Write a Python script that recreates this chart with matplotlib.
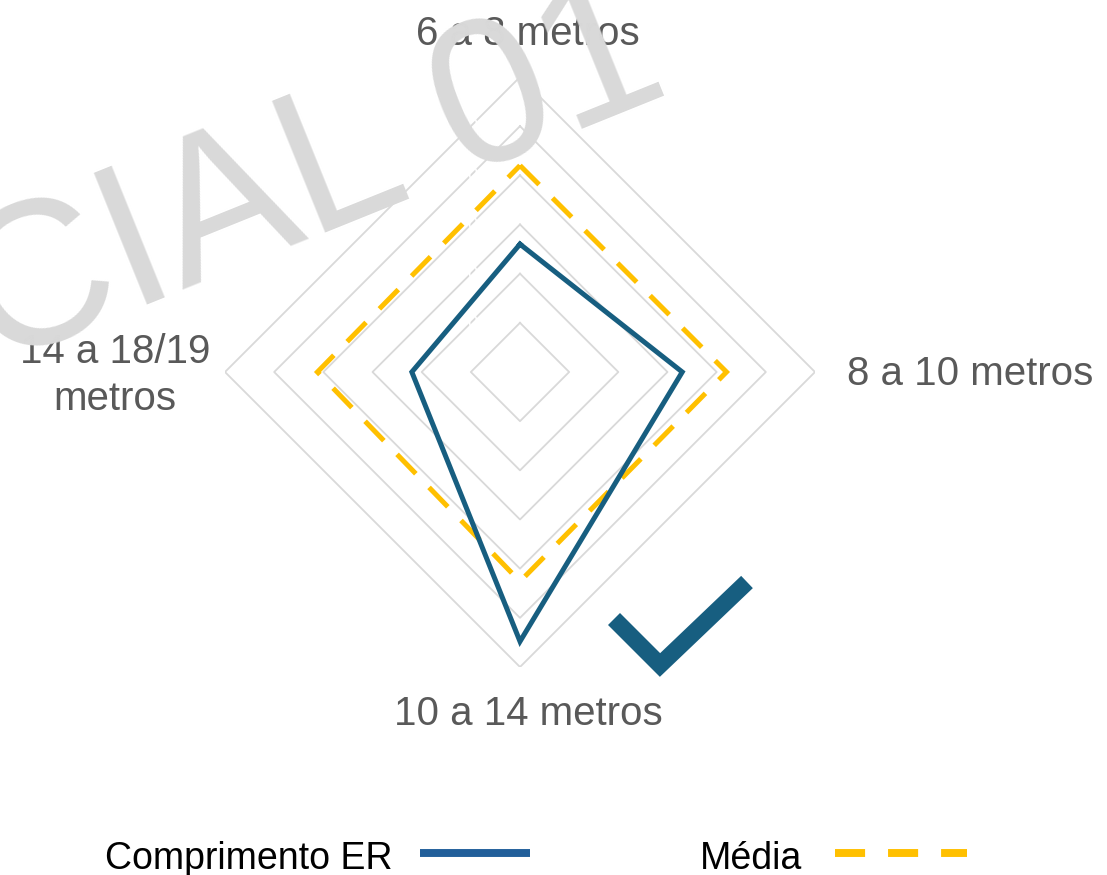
"""
Radar chart: Comprimento ER vs Média por faixa de comprimento.
"""

import numpy as np
import matplotlib
matplotlib.use("Agg")
import matplotlib.pyplot as plt
from matplotlib.lines import Line2D

W, H = 1107, 875

categories = ["6 a 8 metros", "8 a 10 metros", "10 a 14 metros", "14 a 18/19\nmetros"]
comprimento_er = [0.13, 0.165, 0.274, 0.11]
media = [0.21, 0.21, 0.213, 0.206]
rings = [0.05, 0.10, 0.15, 0.20, 0.25, 0.30]
ring_labels = ["0,05", "0,10", "0,15", "0,20", "0,25", "0,30"]

BLUE = "#175e80"
BLUE_LEG = "#215f9a"
YELLOW = "#ffc000"
GRID = "#d9d9d9"
TXT = "#595959"

plt.rcParams["font.family"] = ["Liberation Sans", "DejaVu Sans"]


def px(x, y):
    """image pixel -> figure fraction"""
    return x / W, 1 - y / H


fig = plt.figure(figsize=(W / 100, H / 100), dpi=100)
cx, cy = px(520, 372)
rw, rh = 295 / W, 295 / H
ax = fig.add_axes([cx - rw, cy - rh, 2 * rw, 2 * rh], projection="polar")
ax.set_theta_offset(np.pi / 2)
ax.set_theta_direction(-1)
ax.set_ylim(0, rings[-1])
ax.grid(False)
ax.spines["polar"].set_visible(False)
ax.set_xticks([])
ax.set_yticks([])
ax.patch.set_alpha(0)

n = len(categories)
theta = np.linspace(0, 2 * np.pi, n, endpoint=False)
tclosed = np.append(theta, theta[0])

# grid rings (straight diamond)
for r in rings:
    ax.plot(tclosed, [r] * (n + 1), color=GRID, lw=1.3, zorder=1)

# hidden (white) value labels like in the source
for r, lab in zip(rings[:-1], ring_labels[:-1]):
    ax.annotate(lab, xy=(0, r), xytext=(-18, 0), textcoords="offset pixels",
                ha="right", va="center", fontsize=13, color="white", zorder=2)

ax.plot(tclosed, media + media[:1], color=YELLOW, lw=3.6, dashes=(5.4, 3.8),
        dash_capstyle="butt", dash_joinstyle="miter", zorder=3)
ax.plot(tclosed, comprimento_er + comprimento_er[:1], color=BLUE, lw=3.6,
        solid_joinstyle="miter", zorder=4)

# category labels
offsets = [(8, 32, "center"), (32, -13, "left"), (8, -58, "center"), (-15, -38, "right")]
for t, lab, (dx, dy, ha) in zip(theta, categories, offsets):
    ax.annotate(lab, xy=(t, rings[-1]), xytext=(dx, dy), textcoords="offset pixels",
                ha=ha, va="baseline", multialignment="center", linespacing=1.3,
                fontsize=29, color=TXT, annotation_clip=False, zorder=5)

# check mark
chk = [(614, 619), (660, 665), (747, 582)]
fig.add_artist(Line2D([px(*p)[0] for p in chk], [px(*p)[1] for p in chk],
                      transform=fig.transFigure, color=BLUE, lw=12.2,
                      solid_joinstyle="miter", solid_capstyle="butt"))

# legend (manual)
fig.text(*px(105, 869), "Comprimento ER", fontsize=27, color="black", va="baseline")
fig.add_artist(Line2D([px(420, 0)[0], px(530, 0)[0]], [px(0, 853)[1]] * 2,
                      transform=fig.transFigure, color=BLUE_LEG, lw=5.7, solid_capstyle="butt"))
fig.text(*px(700, 869), "Média", fontsize=27, color="black", va="baseline")
fig.add_artist(Line2D([px(835, 0)[0], px(967, 0)[0]], [px(0, 853)[1]] * 2,
                      transform=fig.transFigure, color=YELLOW, lw=5.7,
                      dashes=(3.8, 2.9), dash_capstyle="butt"))

# watermark
fig.text(*px(-8, 367), "CIAL 01", fontsize=148, color=GRID, rotation=22,
         rotation_mode="anchor", ha="left", va="baseline", zorder=10)

fig.savefig("out.png", dpi=100)
